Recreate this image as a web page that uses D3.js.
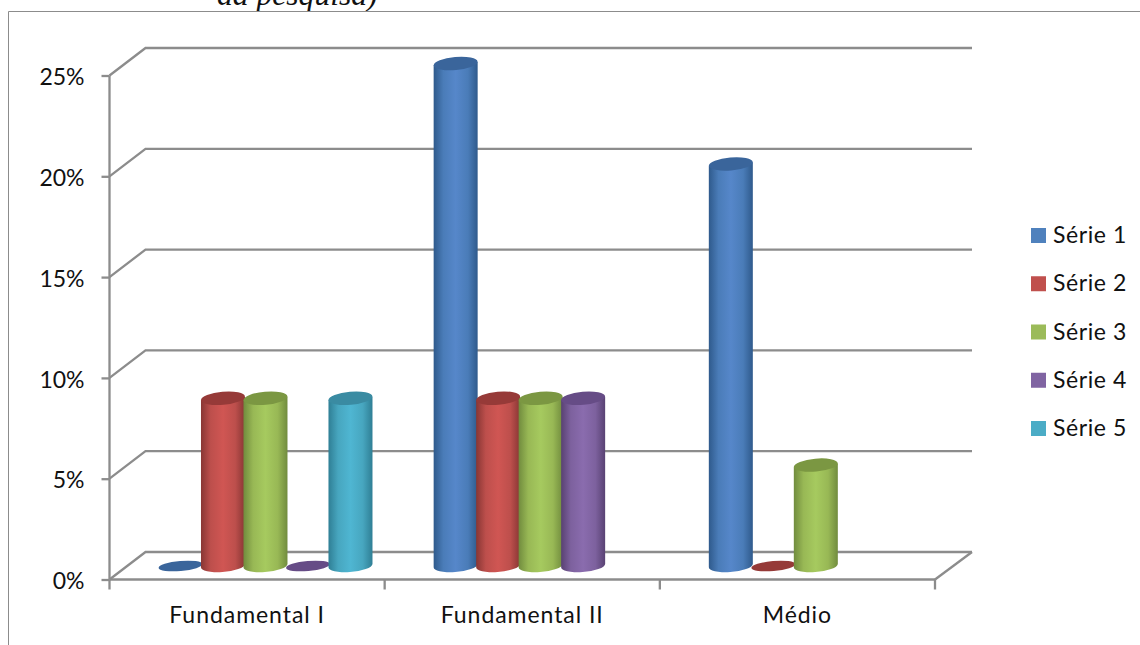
<!DOCTYPE html>
<html><head><meta charset="utf-8">
<script src="https://cdn.jsdelivr.net/npm/d3@7"></script>
<style>html,body{margin:0;padding:0;background:#fff}svg{display:block}text{font-family:Lato,"Open Sans",sans-serif;fill:#111}</style>
</head><body><svg id="c" width="1140" height="645"></svg>
<script>
const categories = ["Fundamental I","Fundamental II","Médio"];
const seriesNames = ["Série 1","Série 2","Série 3","Série 4","Série 5"];
const serie1 = [0,25,20];
const serie2 = [8.33,8.33,0];
const serie3 = [8.33,8.33,5];
const serie4 = [0,8.33,null];
const serie5 = [8.33,null,null];
const yTicks = [0,5,10,15,20,25];
const allSeries = [serie1,serie2,serie3,serie4,serie5];
const palette = [
 {edge:"#2f5a8c",mid:"#4a7cb8",hi:"#5687ca",cap:"#3a659b"},
 {edge:"#883634",mid:"#bd4f4c",hi:"#d05653",cap:"#963a38"},
 {edge:"#718c3e",mid:"#98b855",hi:"#a6ca5f",cap:"#7b9742"},
 {edge:"#594273",mid:"#7d619e",hi:"#8a6cae",cap:"#664c86"},
 {edge:"#2f7f95",mid:"#47a6bf",hi:"#4fb6d2",cap:"#3a8ba2"}];
const legendFill = ["#4f81bd","#c0504d","#9bbb59","#8064a2","#4bacc6"];
const svg = d3.select("#c");
const dx=36, dy=-27.5;
const y = d3.scaleLinear().domain([0,25]).range([579.5,75.5]);
const x = d3.scaleBand().domain(categories).range([109.5,935]);
const s = d3.scaleBand().domain(d3.range(5)).range([-106.25,106.25]);
const grey="#8c8c8c";
const labelStyle = sel => sel.attr("font-size",23).attr("fill","#111").style("font-family","Lato");

// frame and text fragment
svg.append("text").attr("x",217).attr("y",5).attr("font-size",31.6).style("font-family","'Liberation Serif'").style("font-style","italic").text("da pesquisa)");
svg.append("path").attr("d","M8.5,645V11.5H1140").attr("fill","none").attr("stroke","#8c8c8c").attr("stroke-width",1);

// walls
const g=svg.append("g").attr("fill","none").attr("stroke",grey).attr("stroke-width",2.3);
yTicks.forEach(t=>{
  const yy=y(t);
  g.append("path").attr("d",`M${x.range()[0]},${yy}L${x.range()[0]+dx},${yy+dy}H${x.range()[1]+dx+1}`);
});
g.append("path").attr("d",`M${x.range()[1]},${y(0)}L${x.range()[1]+dx+1},${y(0)+dy}`);

// axes
const ya=svg.append("g").attr("transform",`translate(${x.range()[0]},0)`)
  .call(d3.axisLeft(y).tickValues(yTicks).tickSize(8).tickPadding(17).tickFormat(d=>d+"%"));
ya.selectAll("line,path").attr("stroke",grey).attr("stroke-width",2.3);
ya.select("path").attr("d",`M0,${y(25)}V${y(0)}`);
ya.selectAll("text").call(labelStyle).attr("dy","0.40em");
const xa=svg.append("g").attr("transform",`translate(0,${y(0)})`)
  .call(d3.axisBottom(x).tickSize(0).tickPadding(27));
xa.select("path").attr("d",`M${x.range()[0]},0H${x.range()[1]}`).attr("stroke",grey).attr("stroke-width",2.3);
xa.selectAll("text").call(labelStyle).style("letter-spacing","0.95px");
const bounds=categories.map(c=>x(c)).concat([x.range()[1]]);
xa.selectAll(".b").data(bounds).join("line").attr("class","b").attr("x1",d=>d).attr("x2",d=>d).attr("y1",0).attr("y2",10).attr("stroke",grey).attr("stroke-width",2.3);

// gradients
const defs=svg.append("defs");
palette.forEach((p,i)=>{
  const gr=defs.append("linearGradient").attr("id","g"+i);
  [[0,p.edge],[.22,p.mid],[.5,p.hi],[.78,p.mid],[1,p.edge]].forEach(a=>gr.append("stop").attr("offset",a[0]).attr("stop-color",a[1]));
});

// cylinders
const baseY=y(0)-14, r=22, ry=6.5, tilt=-5, lift=1.6, squash=0.996;
const bars=svg.append("g");
categories.forEach((c,ci)=>{
  const cx0=x(c)+x.bandwidth()/2+dx/2+0.4;
  allSeries.forEach((vals,si)=>{
    const v=vals[ci];
    if(v===null) return;
    const cx=cx0+s(si)+s.bandwidth()/2;
    const h=(y(0)-y(v))*squash;
    const top=baseY-h, p=palette[si];
    if(v>0){
      bars.append("path").attr("fill",`url(#g${si})`)
       .attr("d",`M${cx-r},${top+lift}L${cx+r},${top-lift}L${cx+r},${baseY-lift}A${r},${ry} ${tilt} 0 1 ${cx-r},${baseY+lift}Z`);
    }
    bars.append("ellipse").attr("cx",cx).attr("cy",v>0?top:baseY+0.5).attr("rx",r).attr("ry",v>0?ry:5)
      .attr("fill",p.cap).attr("transform",`rotate(-5 ${cx} ${v>0?top:baseY})`);
  });
});

// legend
const ly=d3.scalePoint().domain(seriesNames).range([235.5,428.5]);
const lg=svg.append("g");
seriesNames.forEach((n,i)=>{
  lg.append("rect").attr("x",1031).attr("y",ly(n)-7.5).attr("width",15).attr("height",15).attr("fill",legendFill[i]);
  lg.append("text").attr("x",1053).attr("y",ly(n)+7.5).attr("font-size",23).style("letter-spacing","0.6px").text(n);
});
</script></body></html>
